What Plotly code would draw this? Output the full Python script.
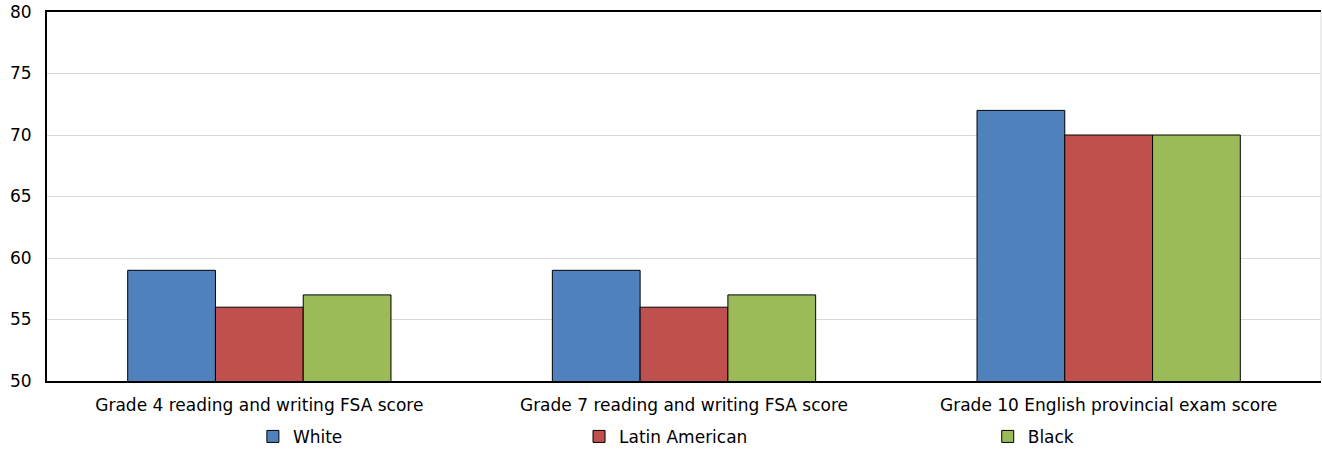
import plotly.graph_objects as go

categories = ["Grade 4 reading and writing FSA score",
              "Grade 7 reading and writing FSA score",
              "Grade 10 English provincial exam score"]
series_names = ["White", "Latin American", "Black"]
white = [59, 59, 72]
latin = [56, 56, 70]
black = [57, 57, 70]
y_ticks = [50, 55, 60, 65, 70, 75, 80]

colors = ["#4F81BD", "#C0504D", "#9BBB59"]
values = [white, latin, black]
legend_ids = ["legend", "legend2", "legend3"]
legend_x = [0.1616, 0.4176, 0.7384]

fig = go.Figure()
for name, vals, col, lid in zip(series_names, values, colors, legend_ids):
    fig.add_trace(go.Bar(
        x=categories, y=vals, name=name, legend=lid,
        marker=dict(color=col, line=dict(color="black", width=1)),
    ))

base_font = dict(family="DejaVu Sans, Verdana, sans-serif", size=17, color="#000000")
leg_common = dict(orientation="h", yanchor="middle", xanchor="left",
                  yref="container", y=0.027,
                  font=dict(family="DejaVu Sans, Verdana, sans-serif", size=17, color="#000"),
                  itemwidth=30, bgcolor="rgba(0,0,0,0)", tracegroupgap=0)

layout_legends = {}
for lid, lx in zip(legend_ids, legend_x):
    layout_legends[lid] = dict(leg_common, x=lx)

fig.update_layout(
    width=1322, height=449,
    margin=dict(l=47, r=1, t=12, b=68),
    paper_bgcolor="white", plot_bgcolor="white",
    font=base_font,
    barmode="group", bargap=0.38, bargroupgap=0,
    showlegend=True,
    xaxis=dict(showline=True, linecolor="black", linewidth=2, mirror=True,
               ticks="", tickfont=base_font, showgrid=False, ticklabelstandoff=8,
               automargin=False),
    yaxis=dict(range=[50, 80], tickvals=y_ticks, showline=True, linecolor="black",
               linewidth=2, showgrid=True, gridcolor="#D9D9D9", gridwidth=1,
               ticks="", tickfont=base_font, zeroline=False, ticklabelstandoff=10,
               automargin=False),
    shapes=[dict(type="line", xref="paper", yref="paper", x0=1, x1=1, y0=0, y1=1,
                 line=dict(color="#D9D9D9", width=1))],
    **layout_legends,
)

fig.write_html("out.html",
               config={"displayModeBar": False},
               post_script="document.body.style.margin='0';document.body.style.overflow='hidden';")
